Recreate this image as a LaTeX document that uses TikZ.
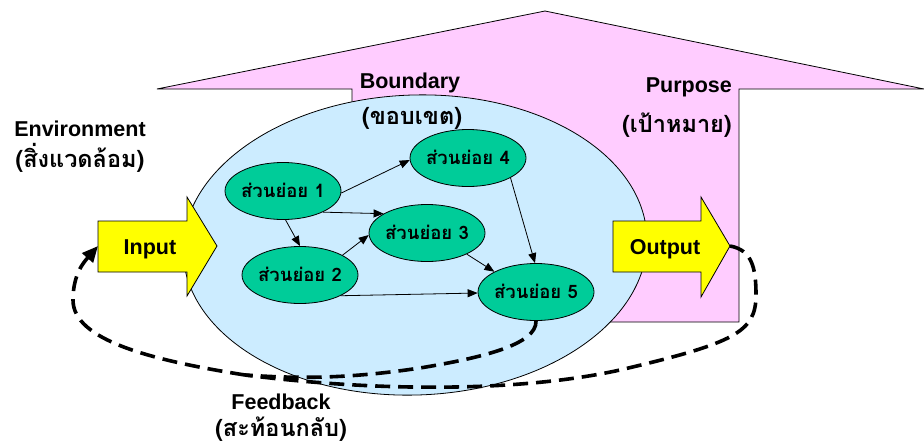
\documentclass[tikz,border=0pt]{standalone}
\usepackage{fontspec}
\setmainfont{Liberation Sans}
\newfontfamily\thaifont[Script=Thai]{Loma}
\usetikzlibrary{shapes.geometric,arrows.meta}
\definecolor{pinkfill}{HTML}{FFCCFF}
\definecolor{sysblue}{HTML}{CCECFF}
\definecolor{partgreen}{HTML}{00CC99}
\definecolor{ioyellow}{HTML}{FFFF00}
\newcommand\subtxt[1]{\makebox[0pt]{#1}}

\begin{document}
\begin{tikzpicture}[x=1pt,y=-1pt,
  outline/.style={draw=black,line width=0.8pt},
  subpart/.style={ellipse,draw=black,line width=0.8pt,fill=partgreen,
    minimum width=116pt,minimum height=57pt,inner sep=0pt,
    text height=12.5pt,text depth=0pt,
    font=\thaifont\bfseries\fontsize{18.5}{18.5}\selectfont},
  flow/.style={line width=0.8pt,-{Triangle[length=10pt,width=8pt]}},
  feedback/.style={line width=3.6pt,dash pattern=on 15pt off 8pt},
  latin/.style={inner sep=0pt,font=\bfseries\fontsize{21.5}{24}\selectfont},
  thai/.style={inner sep=0pt,font=\thaifont\bfseries\fontsize{23.5}{26}\selectfont},
]
\useasboundingbox (0,0) rectangle (924,445);

% purpose: large upward arrow behind the system
\path[fill=pinkfill,outline] (352,322) -- (352,89) -- (157,89) -- (545,11)
  -- (924,89) -- (739,89) -- (739,322) -- cycle;

% system boundary
\path[fill=sysblue,outline,rotate around={2:(415,245)}]
  (415,245) ellipse [x radius=232, y radius=150];

% input and output block arrows
\path[fill=ioyellow,outline] (98,221) -- (187,221) -- (187,197) -- (217,246)
  -- (187,296) -- (187,272) -- (98,272) -- cycle;
\path[fill=ioyellow,outline] (613,221) -- (701,221) -- (701,197) -- (730,246)
  -- (701,297) -- (701,272) -- (613,272) -- cycle;
\coordinate (outtip) at (730,246);
\coordinate (inleft) at (98,246);
\coordinate (fbjoin) at (245,375);

% labels
\node[latin,anchor=base] (env) at (80,136) {Environment};
\node[thai,anchor=base] (envth) at (80,167) {(สิ่งแวดล้อม)};
\node[latin,anchor=base] (bnd) at (410,88) {Boundary};
\node[thai,anchor=base] (bndth) at (412,124) {(ขอบเขต)};
\node[latin,anchor=base east] (pur) at (732,92) {Purpose};
\node[thai,anchor=base east] (purth) at (732,132) {(เป้าหมาย)};
\node[latin,anchor=base] (inlbl) at (150,254) {Input};
\node[latin,anchor=base] (outlbl) at (665,254) {Output};
\node[latin,anchor=base] (fb) at (281,409) {Feedback};
\node[thai,anchor=base] (fbth) at (281,436) {(สะท้อนกลับ)};

% sub-parts
\node[subpart] (n1) at (283,191) {\subtxt{ส่วนย่อย 1}};
\node[subpart] (n2) at (300,275) {\subtxt{ส่วนย่อย 2}};
\node[subpart] (n3) at (427,233) {\subtxt{ส่วนย่อย 3}};
\node[subpart] (n4) at (468,158) {\subtxt{ส่วนย่อย 4}};
\node[subpart] (n5) at (536,292) {\subtxt{ส่วนย่อย 5}};

\draw[flow] (n1.-2) -- (n4.182);
\draw[flow] (n1.-28) -- (n3.156);
\draw[flow] (n1.-85) -- (n2.90);
\draw[flow] (n2.25) -- (n3.182);
\draw[flow] (n3.-28) -- (n5.154);
\draw[flow] (n4.-25) -- (n5.92);
\draw[flow] (n2.-27) -- (n5.181);

% feedback loops
\draw[feedback] (outtip) .. controls (752,250) and (756,268) .. (756,295)
  .. controls (756,332) and (735,343) .. (620,370)
  .. controls (520,392) and (380,392) .. (fbjoin);
\draw[feedback] (n5.south) .. controls (537,345) and (480,358) .. (420,368)
  .. controls (340,380) and (290,378) .. (fbjoin);
\draw[feedback,-{Triangle[length=16pt,width=14pt]}] (fbjoin)
  .. controls (150,360) and (73,340) .. (73,300)
  .. controls (73,274) and (84,262) .. (inleft);
\end{tikzpicture}
\end{document}
